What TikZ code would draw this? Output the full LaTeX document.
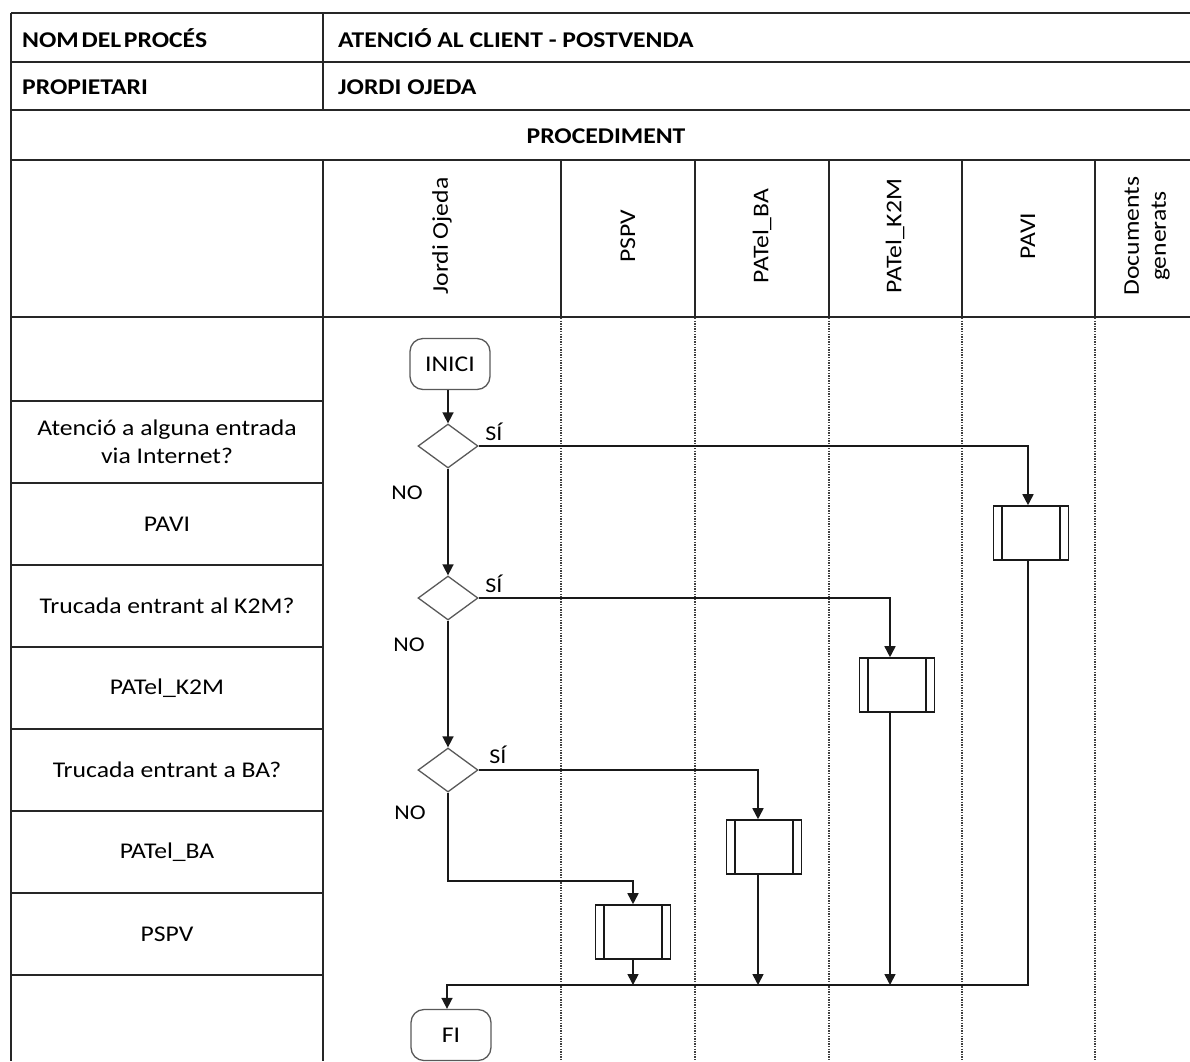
\documentclass[tikz,border=0pt]{standalone}
\usepackage{fontspec}
\setmainfont{Carlito}[FakeStretch=1.14]
\usetikzlibrary{shapes.geometric,arrows.meta}

\begin{document}
\begin{tikzpicture}[x=1pt,y=-1pt,
  txt/.style={font=\fontsize{22.5}{28}\selectfont, inner sep=0pt, align=center},
  hdr/.style={font=\fontsize{22.5}{28}\selectfont\bfseries, inner sep=0pt},
  grid/.style={line width=1.5pt, black!85},
  lane/.style={line width=1.1pt, black!75, dash pattern=on 1.3pt off 1.3pt},
  flow/.style={line width=1.6pt, black!90},
  arr/.style={flow, -{Triangle[length=11pt,width=11pt]}},
  term/.style={draw=black!65, line width=1.3pt, rounded corners=13pt,
    minimum width=80pt, minimum height=51pt, txt},
  decision/.style={diamond, draw=black!65, line width=1.3pt,
    minimum width=60pt, minimum height=44pt, inner sep=0pt},
  subproc/.style={draw=black!90, line width=1.6pt, minimum width=75pt,
    minimum height=54pt, inner sep=0pt},
  lbl/.style={font=\fontsize{21}{25}\selectfont, inner sep=0pt},
]
\useasboundingbox (0,0) rectangle (1190,1061);
\clip (0,0) rectangle (1190,1061);

% ---- table frame ----
\foreach \y in {13,62,110,160,317}
  \draw[grid] (11,\y) -- (1200,\y);
\foreach \y in {401,483,565,647,729,811,893,975}
  \draw[grid] (11,\y) -- (323,\y);
\draw[grid] (11,13) -- (11,1061);
\draw[grid] (323,13) -- (323,110);
\draw[grid] (323,160) -- (323,1061);
\foreach \x in {561,695,829,962,1095} {
  \draw[grid] (\x,160) -- (\x,317);
  \draw[lane] (\x,318) -- (\x,1061);
}

% ---- header texts ----
\node[hdr, anchor=west] (hname) at (22,38) {NOM\hspace{-3pt} DEL\hspace{-3pt} PROCÉS};
\node[hdr, anchor=west] (hnameval) at (338,38) {ATENCIÓ AL CLIENT - POSTVENDA};
\node[hdr, anchor=west] (howner) at (22,87) {PROPIETARI};
\node[hdr, anchor=west] (hownerval) at (338,87) {JORDI OJEDA};
\node[hdr] (hproc) at (606,136) {PROCEDIMENT};

% ---- lane titles ----
\node[txt, rotate=90] (l1) at (442,236) {Jordi Ojeda};
\node[txt, rotate=90] (l2) at (628,236) {PSPV};
\node[txt, rotate=90] (l3) at (762,236) {PATel\_BA};
\node[txt, rotate=90] (l4) at (895,236) {PATel\_K2M};
\node[txt, rotate=90] (l5) at (1028,236) {PAVI};
\node[txt, rotate=90, font=\fontsize{22.5}{27}\selectfont] (l6) at (1147,236) {Documents\\generats};

% ---- row titles ----
\node[txt] (r1) at (167,442) {Atenció a alguna entrada\\via Internet?};
\node[txt] (r2) at (167,524) {PAVI};
\node[txt] (r3) at (167,606) {Trucada entrant al K2M?};
\node[txt] (r4) at (167,688) {PATel\_K2M};
\node[txt] (r5) at (167,770) {Trucada entrant a BA?};
\node[txt] (r6) at (167,852) {PATel\_BA};
\node[txt] (r7) at (167,934) {PSPV};

% ---- flow nodes ----
\node[term] (inici) at (450,364) {INICI};
\node[decision] (d1) at (448,446) {};
\node[decision] (d2) at (448,598) {};
\node[decision] (d3) at (448,770) {};
\node[subproc] (pavi) at (1031,533) {};
\node[subproc] (k2m) at (897,685) {};
\node[subproc] (ba) at (764,847) {};
\node[subproc] (pspv) at (633,932) {};
\node[term] (fi) at (451,1035) {FI};

\foreach \n in {pavi,k2m,ba,pspv} {
  \draw[flow] ([xshift=9.5pt]\n.north west) -- ([xshift=9.5pt]\n.south west);
  \draw[flow] ([xshift=-9.5pt]\n.north east) -- ([xshift=-9.5pt]\n.south east);
}

% ---- branch corners ----
\coordinate (c1) at (1028,446);
\coordinate (c2) at (890,598);
\coordinate (c3) at (758,770);
\coordinate (c4) at (448,881);
\coordinate (c5) at (633,881);
\coordinate (m1) at (1028,985);
\coordinate (m0) at (447,985);

% ---- connectors ----
\draw[arr] (inici.south -| d1.north) -- (d1.north);
\draw[arr] (d1.south) -- (d2.north);
\draw[arr] (d2.south) -- (d3.north);
\draw[arr] (d1.east) -- (c1) -- (c1 |- pavi.north);
\draw[arr] (d2.east) -- (c2) -- (c2 |- k2m.north);
\draw[arr] (d3.east) -- (c3) -- (c3 |- ba.north);
\draw[arr] (d3.south) -- (c4) -- (c5) -- (c5 |- pspv.north);
\draw[arr] (c1 |- pavi.south) -- (m1) -- (m0) -- (m0 |- fi.north);
\draw[arr] (c2 |- k2m.south) -- (c2 |- m1);
\draw[arr] (c3 |- ba.south) -- (c3 |- m1);
\draw[arr] (c5 |- pspv.south) -- (c5 |- m1);

% ---- branch labels ----
\node[lbl] (s1) at (494,432) {SÍ};
\node[lbl] (s2) at (494,584) {SÍ};
\node[lbl] (s3) at (498,755) {SÍ};
\node[lbl] (n1) at (407,493) {NO};
\node[lbl] (n2) at (409,645) {NO};
\node[lbl] (n3) at (410,813) {NO};
\end{tikzpicture}
\end{document}
